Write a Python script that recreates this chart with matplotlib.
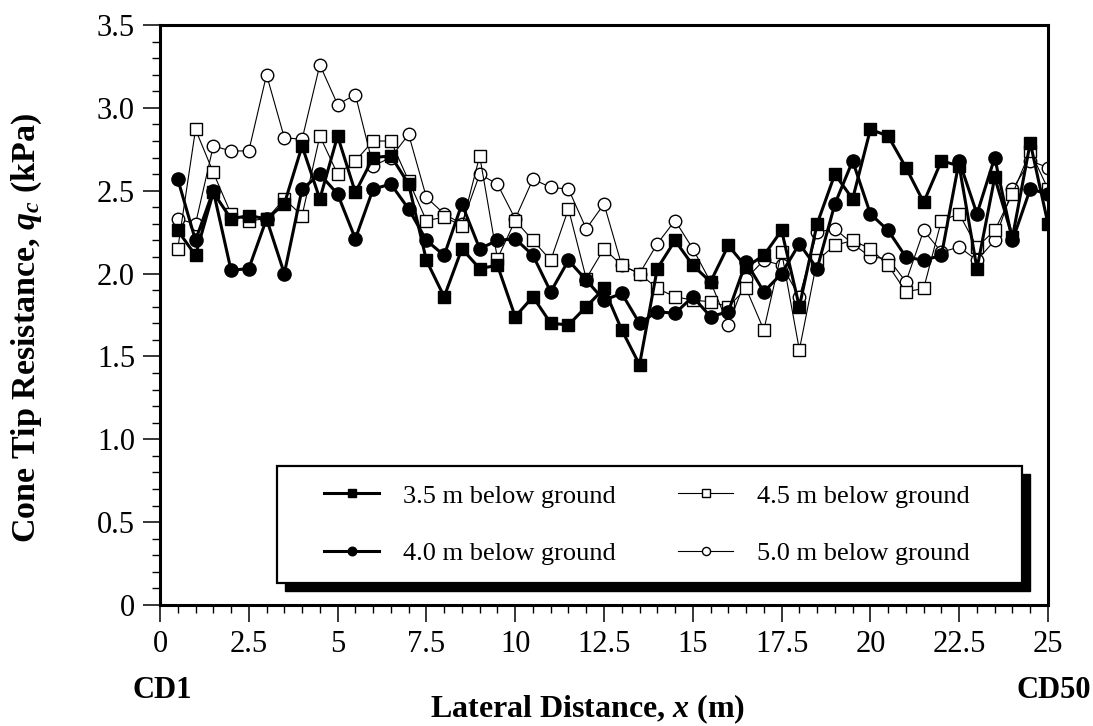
import numpy as np
import matplotlib
matplotlib.use('Agg')
import matplotlib.pyplot as plt
from matplotlib.patches import Rectangle
from matplotlib.ticker import MultipleLocator

plt.rcParams['font.family'] = 'Liberation Serif'
plt.rcParams['mathtext.fontset'] = 'custom'
plt.rcParams['mathtext.rm'] = 'Liberation Serif:bold'
plt.rcParams['mathtext.it'] = 'Liberation Serif:italic:bold'

# lateral distance of CD1..CD50 (m)
x = np.arange(1, 51) * 0.5

# cone tip resistance (kPa) at each depth
qc_35 = [2.26, 2.11, 2.49, 2.33, 2.35, 2.33, 2.42, 2.77, 2.45, 2.83,
         2.49, 2.70, 2.71, 2.54, 2.08, 1.86, 2.15, 2.03, 2.05, 1.74,
         1.86, 1.70, 1.69, 1.80, 1.91, 1.66, 1.45, 2.03, 2.20, 2.05,
         1.95, 2.17, 2.04, 2.11, 2.26, 1.80, 2.30, 2.60, 2.45, 2.87,
         2.83, 2.64, 2.43, 2.68, 2.65, 2.03, 2.58, 2.22, 2.79, 2.30]
qc_40 = [2.57, 2.20, 2.50, 2.02, 2.03, 2.33, 2.00, 2.51, 2.60, 2.48,
         2.21, 2.51, 2.54, 2.39, 2.20, 2.11, 2.42, 2.15, 2.20, 2.21,
         2.11, 1.89, 2.08, 1.96, 1.84, 1.88, 1.70, 1.77, 1.76, 1.86,
         1.74, 1.77, 2.07, 1.89, 2.00, 2.18, 2.03, 2.42, 2.68, 2.36,
         2.26, 2.10, 2.08, 2.11, 2.68, 2.36, 2.70, 2.20, 2.51, 2.48]
qc_45 = [2.15, 2.87, 2.61, 2.36, 2.32, 2.33, 2.45, 2.35, 2.83, 2.60,
         2.68, 2.80, 2.80, 2.56, 2.32, 2.34, 2.29, 2.71, 2.09, 2.32,
         2.20, 2.08, 2.39, 1.97, 2.15, 2.05, 2.00, 1.91, 1.86, 1.84,
         1.83, 1.80, 1.91, 1.66, 2.13, 1.54, 2.08, 2.17, 2.20, 2.15,
         2.05, 1.89, 1.91, 2.32, 2.36, 2.16, 2.26, 2.48, 2.74, 2.51]
qc_50 = [2.33, 2.30, 2.77, 2.74, 2.74, 3.20, 2.82, 2.81, 3.26, 3.02,
         3.08, 2.65, 2.70, 2.84, 2.46, 2.36, 2.30, 2.60, 2.54, 2.33,
         2.57, 2.52, 2.51, 2.27, 2.42, 2.05, 2.00, 2.18, 2.32, 2.15,
         1.95, 1.69, 1.97, 2.08, 2.05, 1.86, 2.25, 2.27, 2.18, 2.10,
         2.09, 1.95, 2.26, 2.13, 2.16, 2.08, 2.20, 2.51, 2.68, 2.64]

labels = ['3.5 m below ground', '4.0 m below ground',
          '4.5 m below ground', '5.0 m below ground']

xticks = [0, 2.5, 5, 7.5, 10, 12.5, 15, 17.5, 20, 22.5, 25]
xticklabels = ['0', '2.5', '5', '7.5', '10', '12.5', '15', '17.5', '20', '22.5', '25']
yticks = [0, 0.5, 1.0, 1.5, 2.0, 2.5, 3.0, 3.5]
yticklabels = ['0', '0.5', '1.0', '1.5', '2.0', '2.5', '3.0', '3.5']

fig = plt.figure(figsize=(10.93, 7.26), dpi=100)
ax = fig.add_axes([160/1093, 1 - 605/726, 888/1093, 580/726])

l50, = ax.plot(x, qc_50, 'k-', lw=0.8, marker='o', ms=9, mfc='white', mec='k', mew=1.0, zorder=2)
l45, = ax.plot(x, qc_45, 'k-', lw=0.8, marker='s', ms=8, mfc='white', mec='k', mew=1.0, zorder=2.1)
l40, = ax.plot(x, qc_40, 'k-', lw=2.2, marker='o', ms=9.5, mfc='k', mec='k', zorder=3)
l35, = ax.plot(x, qc_35, 'k-', lw=2.2, marker='s', ms=8.5, mfc='k', mec='k', zorder=3.1)

ax.set_xlim(0, 25)
ax.set_ylim(0, 3.5)
ax.set_xticks(xticks)
ax.set_xticklabels(xticklabels)
ax.set_yticks(yticks)
ax.set_yticklabels(yticklabels)
ax.xaxis.set_minor_locator(MultipleLocator(0.5))
ax.yaxis.set_minor_locator(MultipleLocator(0.1))
ax.tick_params(which='major', direction='out', length=12, width=1.1, labelsize=22, pad=6)
ax.tick_params(which='minor', direction='out', length=6, width=1.0)
for s in ax.spines.values():
    s.set_linewidth(2.2)

ax.set_xlabel(r'Lateral Distance, $x$ (m)', fontsize=23, fontweight='bold')
ax.xaxis.label.set_va('center')
ax.xaxis.set_label_coords(0.481, -0.179)
ax.set_ylabel(r'Cone Tip Resistance, $q_c$ (kPa)', fontsize=24.5, fontweight='bold')
ax.yaxis.label.set_va('center')
ax.yaxis.set_label_coords(-0.150, 0.478)

fig.text(133/1093, 1 - 690/726, 'CD1', fontsize=22, fontweight='bold', ha='left', va='center')
fig.text(1091/1093, 1 - 690/726, 'CD50', fontsize=22, fontweight='bold', ha='right', va='center')

# legend box with a drop shadow
fx0, fx1 = (277 - 160) / 888, (1022 - 160) / 888
fy0, fy1 = (605 - 583) / 580, (605 - 466) / 580
dx, dy = 8 / 888, 8 / 580
ax.add_patch(Rectangle((fx0 + dx, fy0 - dy), fx1 - fx0, fy1 - fy0, transform=ax.transAxes,
                       facecolor='k', edgecolor='k', zorder=4.8, clip_on=False))
ax.add_patch(Rectangle((fx0, fy0), fx1 - fx0, fy1 - fy0, transform=ax.transAxes,
                       facecolor='white', edgecolor='k', lw=1.6, zorder=4.9, clip_on=False))
leg = ax.legend([l35, l40, l45, l50], labels, ncol=2, loc='center',
                bbox_to_anchor=((fx0 + fx1) / 2 - 0.003, (fy0 + fy1) / 2),
                frameon=False, fontsize=19, markerscale=0.65, handlelength=2.1,
                handletextpad=0.9, columnspacing=2.35, labelspacing=1.28)
leg.set_zorder(5)

fig.savefig('out.png', dpi=100)
